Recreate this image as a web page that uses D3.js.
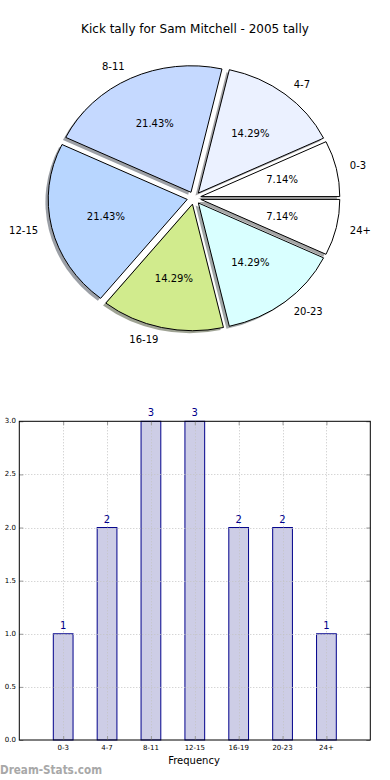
<!DOCTYPE html>
<html>
<head>
<meta charset="utf-8">
<script src="https://cdn.jsdelivr.net/npm/d3@7"></script>
<style>
  html, body { margin: 0; padding: 0; background: #ffffff; }
  svg { display: block; font-family: "DejaVu Sans", sans-serif; }
</style>
</head>
<body>
<svg id="chart" width="390" height="780"></svg>
<script>
// ---- data ----
const title = "Kick tally for Sam Mitchell - 2005 tally";
const categories = ["0-3", "4-7", "8-11", "12-15", "16-19", "20-23", "24+"];
const values = [1, 2, 3, 3, 2, 2, 1];
const pieColors = ["#ffffff", "#ebf1ff", "#c5d9ff", "#b8d6ff", "#d1eb8d", "#d9ffff", "#ffffff"];
const yTicks = [0, 0.5, 1.0, 1.5, 2.0, 2.5, 3.0];
const xLabel = "Frequency";
const watermark = "Dream-Stats.com";

(function () {
const svg = d3.select("#chart");

// ---- title ----
svg.append("text")
  .attr("x", 195).attr("y", 33)
  .attr("text-anchor", "middle")
  .attr("font-size", 12)
  .attr("fill", "#000")
  .text(title);

// ---- pie ----
const cx = 194, cy = 198, rx = 139, ry = 126.5;
const explode = 0.05, labelDist = 1.1, pctDist = 0.6;
const total = d3.sum(values);

const pie = d3.pie().sort(null)
  .startAngle(Math.PI / 2)
  .endAngle(Math.PI / 2 - 2 * Math.PI);
const arcs = pie(values);
const arc = d3.arc().innerRadius(0).outerRadius(1);

function mid(d) { return (d.startAngle + d.endAngle) / 2; }
function ox(d) { return Math.sin(mid(d)); }
function oy(d) { return -Math.cos(mid(d)); }

const gPie = svg.append("g");

// shadows
gPie.selectAll("path.shadow").data(arcs).enter().append("path")
  .attr("class", "shadow")
  .attr("d", arc)
  .attr("transform", d => `translate(${cx + ox(d) * explode * rx - 2.8},${cy + oy(d) * explode * ry + 2.5}) scale(${rx},${ry})`)
  .attr("fill", (d, i) => {
    const c = d3.rgb(pieColors[i]);
    return d3.rgb(c.r * 0.3, c.g * 0.3, c.b * 0.3).toString();
  })
  .attr("fill-opacity", 0.5)
  .attr("stroke", "none");

// wedges
gPie.selectAll("path.wedge").data(arcs).enter().append("path")
  .attr("class", "wedge")
  .attr("d", arc)
  .attr("transform", d => `translate(${cx + ox(d) * explode * rx},${cy + oy(d) * explode * ry}) scale(${rx},${ry})`)
  .attr("fill", (d, i) => pieColors[i])
  .attr("stroke", "#000")
  .attr("stroke-width", 1)
  .attr("vector-effect", "non-scaling-stroke")
  .attr("stroke-linejoin", "round");

// category labels
gPie.selectAll("text.lab").data(arcs).enter().append("text")
  .attr("class", "lab")
  .attr("x", d => cx + ox(d) * (explode + labelDist) * rx)
  .attr("y", d => cy + oy(d) * (explode + labelDist) * ry)
  .attr("text-anchor", d => ox(d) > 0 ? "start" : "end")
  .attr("dominant-baseline", "central")
  .attr("font-size", 10)
  .attr("fill", "#000")
  .text((d, i) => categories[i]);

// percentage labels
gPie.selectAll("text.pct").data(arcs).enter().append("text")
  .attr("class", "pct")
  .attr("x", d => cx + ox(d) * (explode + pctDist) * rx)
  .attr("y", d => cy + oy(d) * (explode + pctDist) * ry)
  .attr("text-anchor", "middle")
  .attr("dominant-baseline", "central")
  .attr("font-size", 10)
  .attr("fill", "#000")
  .text(d => (d.value / total * 100).toFixed(2) + "%");

// ---- bar chart ----
const pLeft = 19.3, pRight = 370.3, pTop = 421.3, pBottom = 740;
const x = d3.scaleLinear().domain([-1, categories.length]).range([pLeft, pRight]);
const y = d3.scaleLinear().domain([0, 3]).range([pBottom, pTop]);
const barW = 0.45;
const navy = "#00008b";

const gBar = svg.append("g");

// bars
gBar.selectAll("rect.bar").data(values).enter().append("rect")
  .attr("class", "bar")
  .attr("x", (v, i) => x(i - barW / 2))
  .attr("y", v => y(v))
  .attr("width", x(barW) - x(0))
  .attr("height", v => y(0) - y(v))
  .attr("fill", "#cdcde6")
  .attr("stroke", navy)
  .attr("stroke-width", 1);

// grid (drawn over bars)
const gridStyle = sel => sel.attr("stroke", "#c4c4c4").attr("stroke-width", 1).attr("stroke-dasharray", "1,2");
gBar.selectAll("line.hgrid").data(yTicks.slice(1, -1)).enter().append("line")
  .attr("class", "hgrid")
  .attr("x1", pLeft).attr("x2", pRight)
  .attr("y1", d => Math.round(y(d)) + 0.5).attr("y2", d => Math.round(y(d)) + 0.5)
  .call(gridStyle);
gBar.selectAll("line.vgrid").data(categories).enter().append("line")
  .attr("class", "vgrid")
  .attr("x1", (c, i) => Math.round(x(i)) + 0.5).attr("x2", (c, i) => Math.round(x(i)) + 0.5)
  .attr("y1", pTop).attr("y2", pBottom)
  .call(gridStyle);

// axes with inward ticks
const yAxisL = d3.axisRight(y).tickValues(yTicks).tickSize(4).tickFormat("");
const yAxisR = d3.axisLeft(y).tickValues(yTicks).tickSize(4).tickFormat("");
const xAxisB = d3.axisTop(x).tickValues(d3.range(categories.length)).tickSize(4).tickFormat("");
const xAxisT = d3.axisBottom(x).tickValues(d3.range(categories.length)).tickSize(4).tickFormat("");
[[yAxisL, `translate(${pLeft},0)`], [yAxisR, `translate(${pRight},0)`],
 [xAxisB, `translate(0,${pBottom})`], [xAxisT, `translate(0,${pTop})`]].forEach(([ax, tr]) => {
  const g = gBar.append("g").attr("transform", tr).call(ax);
  g.select(".domain").remove();
  g.selectAll(".tick line").attr("stroke", "#999");
});

// frame
gBar.append("rect")
  .attr("x", pLeft).attr("y", pTop)
  .attr("width", pRight - pLeft).attr("height", pBottom - pTop)
  .attr("fill", "none").attr("stroke", "#000").attr("stroke-width", 1);

// y tick labels
gBar.selectAll("text.ytl").data(yTicks).enter().append("text")
  .attr("class", "ytl")
  .attr("x", 16).attr("y", d => y(d))
  .attr("text-anchor", "end")
  .attr("dominant-baseline", "central")
  .attr("font-size", 7)
  .attr("fill", "#000")
  .text(d => d.toFixed(1));

// x tick labels
gBar.selectAll("text.xtl").data(categories).enter().append("text")
  .attr("class", "xtl")
  .attr("x", (c, i) => x(i)).attr("y", 750)
  .attr("text-anchor", "middle")
  .attr("font-size", 7)
  .attr("fill", "#000")
  .text(c => c);

// value labels
gBar.selectAll("text.val").data(values).enter().append("text")
  .attr("class", "val")
  .attr("x", (v, i) => x(i)).attr("y", v => y(v) - 5)
  .attr("text-anchor", "middle")
  .attr("font-size", 10)
  .attr("fill", navy)
  .text(v => v);

// x label
svg.append("text")
  .attr("x", 194).attr("y", 764)
  .attr("text-anchor", "middle")
  .attr("font-size", 10)
  .attr("fill", "#000")
  .text(xLabel);

// watermark
svg.append("text")
  .attr("x", 0).attr("y", 774)
  .attr("font-size", 12)
  .attr("font-weight", "bold")
  .attr("fill", "#a8a8a8")
  .attr("textLength", 102)
  .attr("lengthAdjust", "spacingAndGlyphs")
  .text(watermark);
})();
</script>
</body>
</html>
